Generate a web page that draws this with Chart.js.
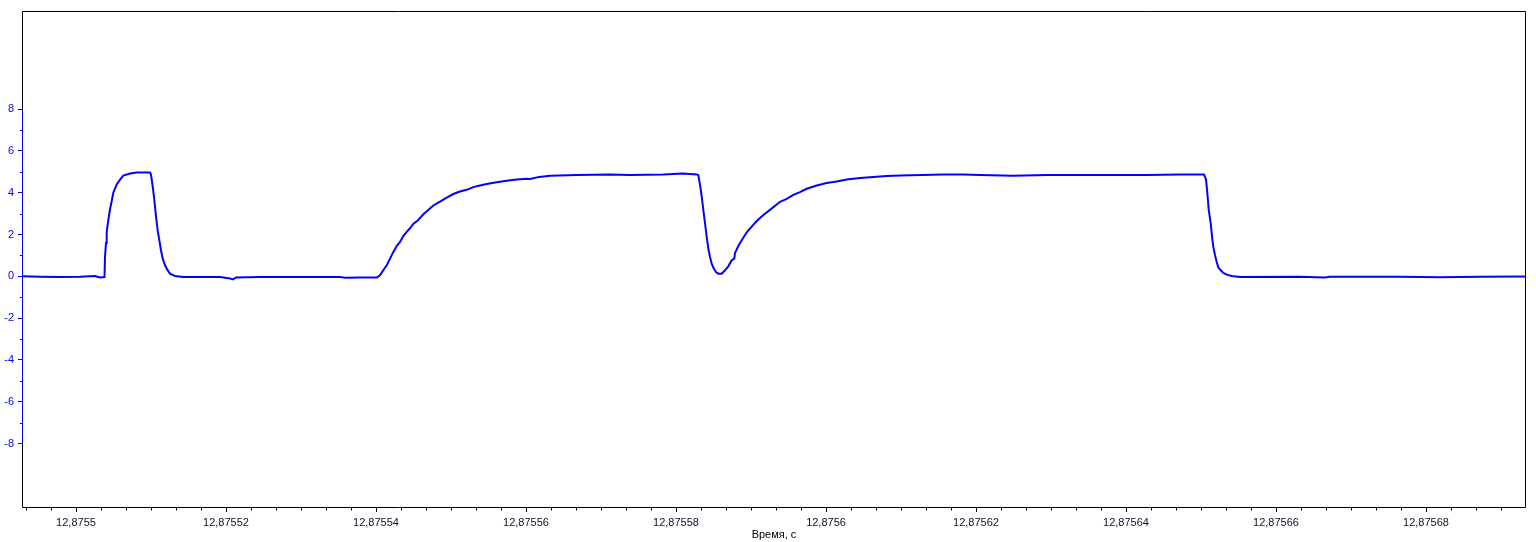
<!DOCTYPE html>
<html>
<head>
<meta charset="utf-8">
<script src="https://cdn.jsdelivr.net/npm/chart.js@4/dist/chart.umd.min.js"></script>
<style>
  html, body { margin: 0; padding: 0; background: #ffffff; }
  #wrap { width: 1536px; height: 542px; }
</style>
</head>
<body>
<div id="wrap"><canvas id="c" width="1536" height="542"></canvas></div>
<script>
// Time offsets in microseconds from 12,8755 s
const timeUs = [
  -7.2, -4.8, -2.13, 0.53, 2.53, 3.2, 3.8, 3.87, 4.0, 4.09, 4.31, 4.53, 4.76, 4.97, 5.43, 5.87, 6.31, 7.2, 8.09, 9.87,
  10.0, 10.23, 10.44, 10.67, 10.89, 11.11, 11.33, 11.56, 11.87, 12.17, 12.53, 13.2, 14.27, 16.53, 19.2, 20.53, 20.93, 21.33,
  24.53, 29.87, 35.2, 35.87, 37.87, 40.09, 40.53, 40.97, 41.43, 41.87, 42.31, 42.76, 43.2, 43.64, 44.09, 44.53, 44.97,
  45.64, 46.31, 46.97, 47.64, 48.53, 49.43, 50.31, 51.2, 52.09, 52.97, 53.87, 54.76, 56.09, 57.43, 58.76, 60.09, 60.53,
  61.77, 63.2, 66.76, 71.2, 73.87, 78.27, 80.93, 82.76, 82.97, 83.2, 83.43, 83.64, 83.87, 84.09, 84.31, 84.53, 84.76,
  84.97, 85.33, 85.64, 86.09, 86.53, 86.97, 87.43, 87.77, 87.87, 88.31, 88.76, 89.43, 90.09, 90.76, 91.64, 92.53, 93.87,
  94.76, 95.64, 96.53, 97.43, 98.76, 100.09, 101.43, 102.76, 104.53, 106.31, 108.09, 109.87, 115.6, 118.27, 120.53,
  124.93, 129.47, 133.87, 138.27, 142.8, 147.2, 150.4, 150.67, 150.84, 151.03, 151.29, 151.47, 151.64, 151.87, 152.09,
  152.31, 152.63, 152.97, 153.43, 154.09, 155.2, 163.2, 166.53, 167.2, 176.53, 181.87, 187.2, 193.4
];
// Signal values
const signalV = [
  0.0, -0.02, -0.03, -0.02, 0.02, -0.05, -0.03, 0.95, 1.6, 2.1, 2.7, 3.2, 3.6, 4.0, 4.4, 4.63, 4.82, 4.92, 4.97, 4.97,
  4.87, 4.3, 3.66, 2.86, 2.2, 1.73, 1.25, 0.85, 0.53, 0.32, 0.13, 0.02, -0.03, -0.03, -0.03, -0.1, -0.15, -0.05,
  -0.03, -0.03, -0.03, -0.07, -0.06, -0.06, 0.05, 0.29, 0.53, 0.85, 1.17, 1.45, 1.65, 1.93, 2.13, 2.30, 2.51,
  2.70, 2.97, 3.18, 3.39, 3.58, 3.77, 3.94, 4.06, 4.14, 4.27, 4.35, 4.42, 4.50, 4.58, 4.63, 4.67, 4.66,
  4.76, 4.82, 4.85, 4.88, 4.85, 4.87, 4.92, 4.88, 4.85, 4.39, 3.82, 3.18, 2.54, 1.89, 1.33, 0.93, 0.61,
  0.42, 0.21, 0.13, 0.13, 0.29, 0.48, 0.77, 0.85, 1.12, 1.45, 1.73, 2.11, 2.38, 2.65, 2.94, 3.18, 3.57,
  3.71, 3.90, 4.03, 4.19, 4.35, 4.47, 4.54, 4.63, 4.71, 4.76, 4.80, 4.83, 4.87, 4.88, 4.85,
  4.82, 4.85, 4.85, 4.85, 4.85, 4.88, 4.87, 4.63, 3.99, 3.18, 2.54, 1.89, 1.41, 1.01, 0.69,
  0.42, 0.29, 0.16, 0.08, 0.02, -0.03, -0.02, -0.06, -0.02, -0.02, -0.04, -0.02, -0.01
];
const xTickValues = [0, 20, 40, 60, 80, 100, 120, 140, 160, 180];
const xTickLabels = ["12,8755", "12,87552", "12,87554", "12,87556", "12,87558", "12,8756", "12,87562", "12,87564", "12,87566", "12,87568"];
const xMinorStep = 20 / 6;
const yTickValues = [-8, -6, -4, -2, 0, 2, 4, 6, 8];
const yTickLabels = ["-8", "-6", "-4", "-2", "0", "2", "4", "6", "8"];
const yMinorValues = [-7, -5, -3, -1, 1, 3, 5, 7];
const xTitle = "Время, с";

const FONT = { family: "'Liberation Sans', Arial, sans-serif", size: 11 };

const framePlugin = {
  id: 'frame',
  afterDraw(chart) {
    const ctx = chart.ctx;
    const a = chart.chartArea;
    const xs = chart.scales.x, ys = chart.scales.y;
    const L = Math.round(a.left) + 0.5, R = Math.round(a.right) - 0.5;
    const T = Math.round(a.top) + 0.5, B = Math.round(a.bottom) + 0.5;
    ctx.save();
    ctx.lineWidth = 1;
    ctx.strokeStyle = '#000000';
    ctx.beginPath();
    ctx.moveTo(L, T); ctx.lineTo(R, T); ctx.lineTo(R, B); ctx.lineTo(L, B); ctx.closePath();
    ctx.stroke();
    // blue part of the value axis between the outer labelled ticks
    const y1 = ys.getPixelForValue(Math.max(...yTickValues));
    const y2 = ys.getPixelForValue(Math.min(...yTickValues));
    ctx.strokeStyle = '#0000ff';
    ctx.beginPath(); ctx.moveTo(L, y1); ctx.lineTo(L, y2); ctx.stroke();
    // minor ticks on y
    ctx.beginPath();
    yMinorValues.forEach(v => {
      const p = Math.round(ys.getPixelForValue(v)) + 0.5;
      ctx.moveTo(L - 2.5, p); ctx.lineTo(L, p);
    });
    ctx.stroke();
    // minor ticks on x
    ctx.strokeStyle = '#000000';
    ctx.beginPath();
    for (let k = Math.ceil(xs.min / xMinorStep); k * xMinorStep <= xs.max; k++) {
      if (k % 6 === 0) continue;
      const p = Math.round(xs.getPixelForValue(k * xMinorStep)) + 0.5;
      ctx.moveTo(p, B); ctx.lineTo(p, B + 3);
    }
    ctx.stroke();
    ctx.restore();
  }
};

new Chart(document.getElementById('c'), {
  type: 'line',
  data: {
    datasets: [{
      data: timeUs.map((t, i) => ({ x: t, y: signalV[i] })),
      borderColor: '#0000ff',
      borderWidth: 2,
      pointRadius: 0,
      tension: 0,
      fill: false
    }]
  },
  options: {
    responsive: false,
    animation: false,
    devicePixelRatio: 1,
    layout: { padding: { top: 11, right: 10, left: 0, bottom: 0 } },
    plugins: { legend: { display: false }, tooltip: { enabled: false } },
    scales: {
      x: {
        type: 'linear',
        min: -7.2,
        max: 193.33,
        afterFit(s) { s.height = 35; },
        afterBuildTicks(s) { s.ticks = xTickValues.map(v => ({ value: v })); },
        border: { display: false },
        grid: { drawOnChartArea: false, drawTicks: true, tickLength: 5, tickColor: '#000000', tickWidth: 1 },
        ticks: {
          autoSkip: false, maxRotation: 0, padding: 4, color: '#1a0a2a', font: FONT,
          callback: (v, i) => xTickLabels[i]
        },
        title: { display: true, text: xTitle, color: '#000000', font: FONT, padding: { top: 0, bottom: 0 } }
      },
      y: {
        type: 'linear',
        min: -11.04,
        max: 12.7,
        afterFit(s) { s.width = 22; },
        afterBuildTicks(s) { s.ticks = yTickValues.map(v => ({ value: v })); },
        border: { display: false },
        grid: { drawOnChartArea: false, drawTicks: true, tickLength: 4, tickColor: '#0000ff', tickWidth: 1 },
        ticks: {
          autoSkip: false, padding: 4, color: '#0000ff', font: FONT,
          callback: (v, i) => yTickLabels[i]
        }
      }
    }
  },
  plugins: [framePlugin]
});
</script>
</body>
</html>
